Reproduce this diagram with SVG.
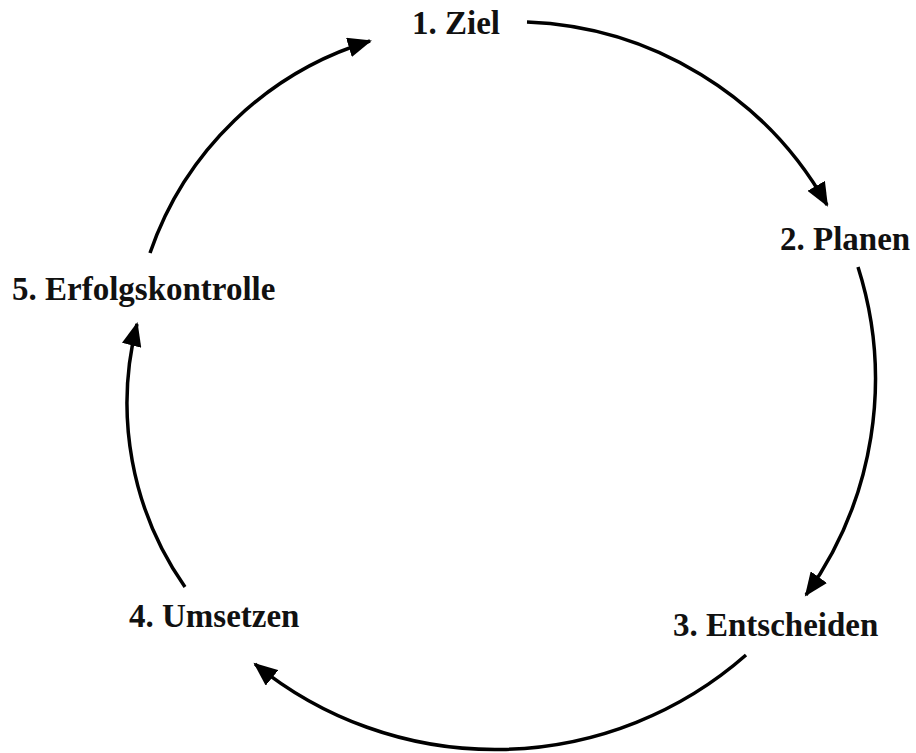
<svg xmlns="http://www.w3.org/2000/svg" width="916" height="753" viewBox="0 0 916 753">
  <defs>
    <style>
      .lbl { font-family: "Liberation Serif", "Times New Roman", serif; font-weight: bold; font-size: 33px; fill: #111; }
      .arc { fill: none; stroke: #000; stroke-width: 3.5; marker-end: url(#ah); }
    </style>
    <marker id="ah" markerUnits="userSpaceOnUse" markerWidth="26" markerHeight="20" refX="22" refY="10" orient="auto" viewBox="0 0 26 20">
      <path d="M0,0 L24,10 L0,20 z" fill="#000"/>
    </marker>
  </defs>
  <rect width="916" height="753" fill="#fff"/>
  <g id="connectors">
    <path class="arc" d="M527,22 A360,360 0 0 1 827,205"/>
    <path class="arc" d="M858,267 A370,370 0 0 1 806,595"/>
    <path class="arc" d="M746,655 A380,380 0 0 1 255,664"/>
    <path class="arc" d="M185,587 A320,320 0 0 1 137,324"/>
    <path class="arc" d="M150,253 A335,335 0 0 1 370,41"/>
  </g>
  <g id="n1"><text class="lbl" x="412" y="34">1. Ziel</text></g>
  <g id="n2"><text class="lbl" x="780" y="250">2. Planen</text></g>
  <g id="n3"><text class="lbl" x="673" y="636">3. Entscheiden</text></g>
  <g id="n4"><text class="lbl" x="129" y="627">4. Umsetzen</text></g>
  <g id="n5"><text class="lbl" x="12" y="300">5. Erfolgskontrolle</text></g>
</svg>
